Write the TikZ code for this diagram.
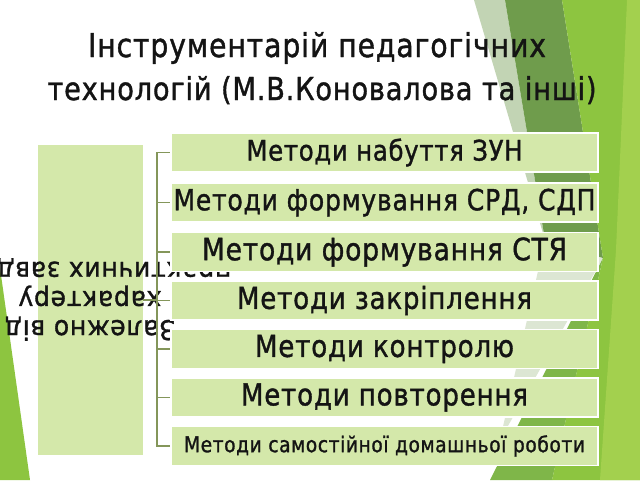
\documentclass[tikz,border=0pt]{standalone}
\usepackage{fontspec}
\setmainfont{DejaVu Sans}
\newfontfamily\heavy{DejaVu Sans}[FakeBold=1.3, LetterSpace=3]
\usepackage{graphicx}
\definecolor{boxfill}{HTML}{D4E8AA}
\definecolor{conncol}{HTML}{84965A}
\definecolor{brightg}{HTML}{8DC540}
\definecolor{lightg}{HTML}{A3D04E}
\definecolor{darkg}{HTML}{6F9C4C}
\definecolor{midg}{HTML}{7FB649}
\definecolor{paleg}{HTML}{DCE6D3}
\definecolor{paleg2}{HTML}{C2D4B4}
\definecolor{txt}{HTML}{141414}
\tikzset{
  itembox/.style={draw=white, line width=1.2pt, fill=boxfill, minimum width=427, minimum height=39, inner sep=0pt, text=txt},
  parentbox/.style={fill=boxfill, minimum width=105, minimum height=310, inner sep=0pt},
  conn/.style={draw=conncol, line width=1.2pt},
  titletext/.style={text=txt, inner sep=0pt, anchor=base},
  itemtext/.style={text=txt, inner sep=0pt}
}
\newcommand{\fitw}[3]{\scalebox{1}[#3]{\resizebox{#1pt}{!}{\heavy\fontsize{20}{24}\selectfont #2}}}
\begin{document}
\begin{tikzpicture}[x=1pt,y=-1pt]
\useasboundingbox (0,0) rectangle (640,480);
\begin{scope}
\clip (0,0) rectangle (640,480);
\fill[white] (0,0) rectangle (640,480);
% background facets
\fill[paleg2] (474,0) -- (505,0) -- (545,240) -- cycle;
\fill[paleg] (545,240) -- (603,258) -- (500,440) -- cycle;
\fill[darkg] (505,0) -- (562,0) -- (603,258) -- (545,240) -- cycle;
\fill[midg] (603,258) -- (552,480) -- (490,480) -- cycle;
\fill[brightg] (562,0) -- (640,0) -- (640,480) -- (552,480) -- (603,258) -- cycle;
\fill[lightg] (627,0) -- (640,0) -- (640,480) -- (600,480) -- (616,250) -- cycle;
\fill[brightg] (0,268) -- (30,480) -- (0,480) -- cycle;
% title
\node[titletext] (t1) at (317,57) {\fitw{458}{Інструментарій педагогічних}{1.16}};
\node[titletext] (t2) at (322,100) {\fitw{549}{технологій (М.В.Коновалова та інші)}{1.16}};
% parent
\node[parentbox] (L) at (90.5,300) {};
\node[rotate=180, text=txt, inner sep=0pt] (Lt) at (90,297) {\scalebox{1}[1.08]{\heavy\fontsize{25}{27}\selectfont\begin{tabular}{@{}c@{}}Залежно від\\характеру\\практичних завдань\end{tabular}}};
% connectors
\coordinate (J) at (157,300);
\node[itembox] (b1) at (384.5,152.5) {};
\node[itembox] (b2) at (384.5,202.5) {};
\node[itembox] (b3) at (384.5,252) {};
\node[itembox] (b4) at (384.5,300.5) {};
\node[itembox] (b5) at (384.5,349) {};
\node[itembox] (b6) at (384.5,397.5) {};
\node[itembox] (b7) at (384.5,446) {};
\draw[conn] (L.east) -- (J);
\foreach \i in {1,...,7} { \draw[conn] (J) |- (b\i.west); }
\node[itemtext] (x1) at (b1) {\fitw{276}{Методи набуття ЗУН}{1.16}};
\node[itemtext] (x2) at (b2) {\fitw{422}{Методи формування СРД, СДП}{1.16}};
\node[itemtext] (x3) at (b3) {\fitw{365}{Методи формування СТЯ}{1.16}};
\node[itemtext] (x4) at (b4) {\fitw{295}{Методи закріплення}{1.16}};
\node[itemtext] (x5) at (b5) {\fitw{259}{Методи контролю}{1.16}};
\node[itemtext] (x6) at (b6) {\fitw{287}{Методи повторення}{1.16}};
\node[itemtext] (x7) at (b7) {\fitw{401}{Методи самостійної домашньої роботи}{1.16}};
\end{scope}
\end{tikzpicture}
\end{document}
